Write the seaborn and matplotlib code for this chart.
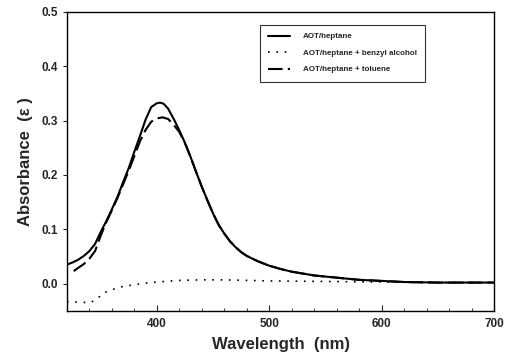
import numpy as np
import pandas as pd
import matplotlib
matplotlib.use("Agg")
import matplotlib.pyplot as plt
from matplotlib.ticker import MultipleLocator
import seaborn as sns

# values
wl_aot = [320, 325, 330, 335, 340, 345, 350, 355, 360, 365, 370, 375, 380, 385, 390,
          395, 400, 403, 406, 410, 415, 420, 425, 430, 435, 440, 445, 450, 455, 460,
          465, 470, 475, 480, 490, 500, 510, 520, 540, 560, 580, 600, 620, 650, 700]
abs_aot = [0.035, 0.039, 0.044, 0.051, 0.060, 0.073, 0.095, 0.115, 0.137, 0.160, 0.187,
           0.213, 0.243, 0.272, 0.302, 0.325, 0.332, 0.333, 0.331, 0.322, 0.303, 0.282,
           0.259, 0.233, 0.205, 0.178, 0.153, 0.129, 0.108, 0.092, 0.078, 0.067, 0.058,
           0.051, 0.041, 0.033, 0.027, 0.022, 0.015, 0.011, 0.007, 0.005, 0.003, 0.002,
           0.002]

wl_tol = [326, 330, 335, 340, 345, 350, 355, 360, 365, 370, 375, 380, 385, 390, 395,
          400, 405, 410, 415, 420, 425, 430, 435, 440, 445, 450, 455, 460, 465, 470,
          475, 480, 490, 500, 510, 520, 540, 560, 580, 600, 620, 650, 700]
abs_tol = [0.023, 0.029, 0.036, 0.046, 0.060, 0.088, 0.113, 0.135, 0.158, 0.183, 0.208,
           0.235, 0.262, 0.283, 0.298, 0.304, 0.306, 0.303, 0.292, 0.279, 0.258, 0.233,
           0.205, 0.178, 0.153, 0.129, 0.108, 0.092, 0.078, 0.067, 0.058, 0.051, 0.041,
           0.033, 0.027, 0.022, 0.015, 0.011, 0.007, 0.005, 0.003, 0.002, 0.002]

wl_bz = [320, 330, 340, 345, 350, 355, 360, 370, 380, 390, 400, 420, 440, 460, 480,
         500, 550, 600, 650, 700]
abs_bz = [-0.033, -0.034, -0.035, -0.031, -0.022, -0.015, -0.011, -0.005, -0.002, 0.001,
          0.003, 0.006, 0.007, 0.007, 0.006, 0.005, 0.004, 0.003, 0.002, 0.002]

labels = ["AOT/heptane", "AOT/heptane + benzyl alcohol", "AOT/heptane + toluene"]

sns.set_style("ticks")
plt.rcParams['font.family'] = ['Liberation Sans', 'DejaVu Sans']
plt.rcParams['font.weight'] = 'bold'

fig = plt.figure(figsize=(5.11, 3.61), dpi=100)
ax = fig.add_axes([0.131, 0.139, 0.836, 0.828])

sns.lineplot(x=wl_aot, y=abs_aot, ax=ax, color='black', lw=1.5, label=labels[0])
sns.lineplot(x=wl_bz, y=abs_bz, ax=ax, color='black', lw=1.2, label=labels[1])
ax.lines[-1].set_linestyle((0, (1, 4)))
sns.lineplot(x=wl_tol, y=abs_tol, ax=ax, color='black', lw=1.5, label=labels[2])
ax.lines[-1].set_linestyle((0, (7, 2.5)))

ax.set_xlim(320, 700)
ax.set_ylim(-0.05, 0.5)
ax.xaxis.set_major_locator(MultipleLocator(100))
ax.xaxis.set_minor_locator(MultipleLocator(20))
ax.yaxis.set_major_locator(MultipleLocator(0.1))
ax.yaxis.set_major_formatter(matplotlib.ticker.FormatStrFormatter('%.1f'))
ax.tick_params(axis='x', which='both', direction='in', labelsize=8.5, pad=5)
ax.tick_params(axis='x', which='major', length=4)
ax.tick_params(axis='x', which='minor', length=2.5)
ax.tick_params(axis='y', direction='out', length=3, labelsize=8.5)
for s in ax.spines.values():
    s.set_visible(True)
    s.set_linewidth(1.0)
    s.set_color('black')

ax.set_xlabel('Wavelength  (nm)', fontsize=12, fontweight='bold', labelpad=5)
ax.set_ylabel('Absorbance  (\u03b5 )', fontsize=12, fontweight='bold', labelpad=6)

leg = ax.legend(loc='upper right', bbox_to_anchor=(0.838, 0.957), borderaxespad=0,
                prop={'family': 'Liberation Sans', 'weight': 'bold', 'size': 5.8},
                frameon=True, fancybox=False, handlelength=2.7, handletextpad=1.6,
                borderpad=1.0, labelspacing=1.1)
leg.get_frame().set_edgecolor('black')
leg.get_frame().set_linewidth(0.8)

fig.savefig('out.png', dpi=100)
